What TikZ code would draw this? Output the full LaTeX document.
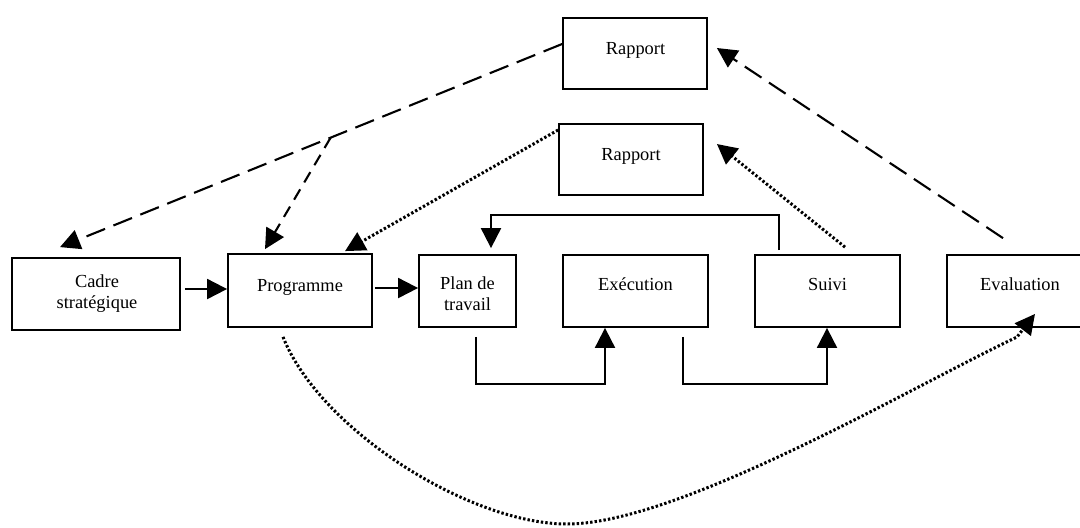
\documentclass[tikz,border=0pt]{standalone}
\usepackage{fontspec}
\setmainfont{Liberation Serif}
\usetikzlibrary{arrows.meta,calc}
\begin{document}
\begin{tikzpicture}[x=0.5pt,y=-0.5pt,
  boxnode/.style={draw,line width=0.9pt,inner sep=0pt},
  txt/.style={inner sep=0pt,font=\fontsize{9.2}{10.6}\selectfont,align=center},
  arrowtip/.style={-{Triangle[length=10pt,width=10pt]}},
  solidline/.style={line width=1pt},
  longdash/.style={line width=1.05pt,dash pattern=on 10pt off 4.5pt},
  shortdash/.style={line width=1.05pt,dash pattern=on 6pt off 4pt},
  dotline/.style={line width=1.5pt,dash pattern=on 1.2pt off 1.05pt}]
\useasboundingbox (0,0) rectangle (1080,527);

% boxes
\node[boxnode,minimum width=84pt,minimum height=36pt] (cadre) at (96,294) {};
\node[boxnode,minimum width=72pt,minimum height=36.5pt] (prog) at (300,290.5) {};
\node[boxnode,minimum width=48.5pt,minimum height=36pt] (plan) at (467.5,291) {};
\node[boxnode,minimum width=72.5pt,minimum height=36pt] (exec) at (635.5,291) {};
\node[boxnode,minimum width=72.5pt,minimum height=36pt] (suivi) at (827.5,291) {};
\node[boxnode,minimum width=73pt,minimum height=36pt] (eval) at (1020,291) {};
\node[boxnode,minimum width=72pt,minimum height=35.5pt] (rap1) at (635,53.5) {};
\node[boxnode,minimum width=72pt,minimum height=35.5pt] (rap2) at (631,159.5) {};

% texts
\node[txt] (cadreT) at (97,293.5) {Cadre\\strat\'egique};
\node[txt,anchor=base] (progT) at (300,291.5) {Programme};
\node[txt] (planT) at (467.5,294) {Plan de\\travail};
\node[txt,anchor=base] (execT) at (635.5,290.7) {Ex\'ecution};
\node[txt,anchor=base] (suiviT) at (827.5,290.7) {Suivi};
\node[txt,anchor=base] (evalT) at (1020,290.7) {Evaluation};
\node[txt,anchor=base] (rap1T) at (635.5,54) {Rapport};
\node[txt,anchor=base] (rap2T) at (631,160) {Rapport};

% solid connectors
\draw[solidline,arrowtip] ($(cadre.east)+(4,-5)$) coordinate (a1) -- (a1 -| prog.west);
\draw[solidline,arrowtip] ($(prog.east)+(2,-2.5)$) coordinate (a2) -- (a2 -| plan.west);
\draw[solidline,arrowtip] ($(suivi.north)+(-48.5,-4)$) -- ++(0,-35) -| ($(plan.north)+(23.5,-6)$);
\draw[solidline,arrowtip] ($(plan.south)+(8.5,9)$) -- ++(0,47) -| ($(exec.south)+(-30.5,0)$);
\draw[solidline,arrowtip] ($(exec.south)+(47.5,9)$) -- ++(0,47) -| ($(suivi.south)+(-0.5,0)$);

% dashed connectors
\coordinate (d1) at ($(rap1.west)+(0,-9.5)$);
\coordinate (d2) at ($(cadre.north)+(-36,-10)$);
\draw[longdash,arrowtip] (d1) -- (d2);
\coordinate (dj) at ($(d1)!0.461!(d2)$);
\draw[shortdash,arrowtip] (dj) -- ($(prog.north)+(-35,-4)$);
\draw[longdash,arrowtip] ($(eval.north)+(-17,-16)$) -- ($(rap1.east)+(9,-5.5)$);

% dotted connectors
\draw[dotline,arrowtip] ($(rap2.west)+(0,-29.5)$) -- ($(prog.north)+(45,-2)$);
\draw[dotline,arrowtip] ($(suivi.north)+(17.5,-7)$) -- ($(rap2.east)+(13,-15.5)$);
\draw[dotline,arrowtip] ($(prog.south)+(-17,9)$) .. controls (320,430) and (470,524) .. (567,524)
  .. controls (680,524) and (917,384) .. (1017,337) -- ($(eval.south)+(15,-14)$);
\end{tikzpicture}
\end{document}
